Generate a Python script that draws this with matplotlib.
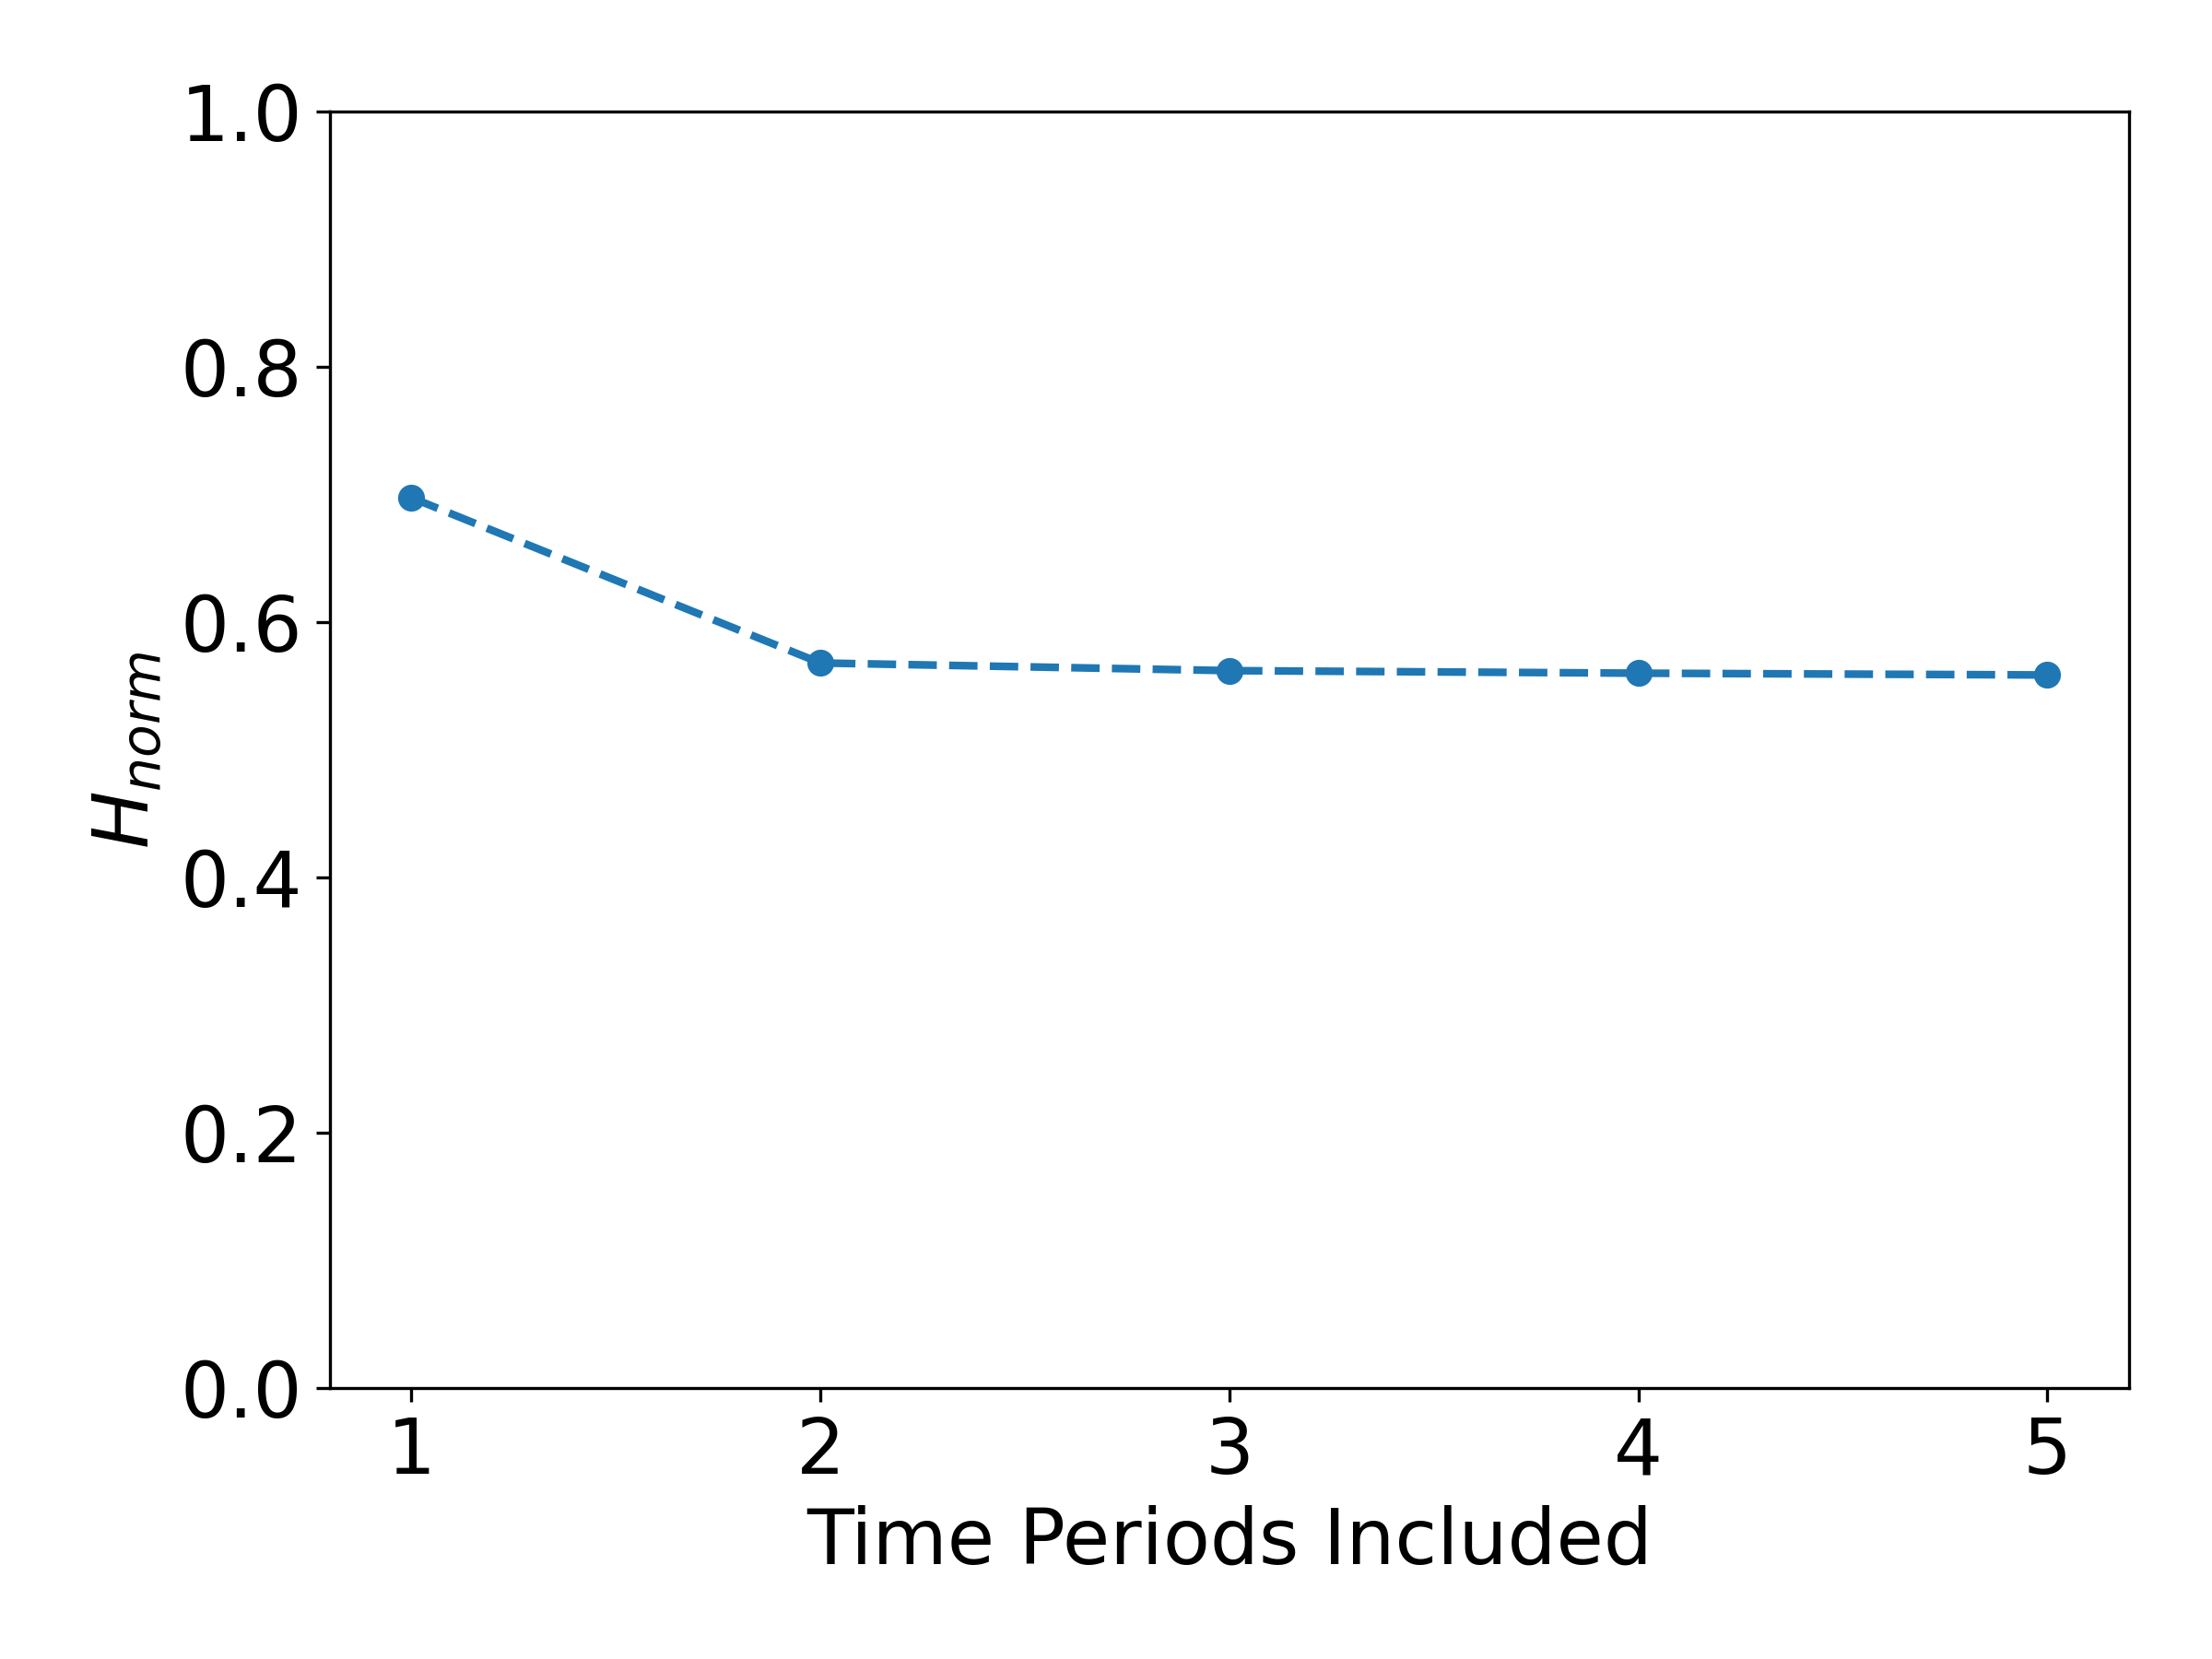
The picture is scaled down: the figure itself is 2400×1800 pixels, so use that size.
import matplotlib
matplotlib.use("Agg")
import matplotlib.pyplot as plt

# number of time periods included and the normalised entropy
periods = [1, 2, 3, 4, 5]
h_norm = [0.6975, 0.568, 0.562, 0.560, 0.5586]

plt.figure(figsize=(8, 6))
plt.plot(periods, h_norm, marker='o', linestyle='--', linewidth=2)
plt.xlabel("Time Periods Included", fontsize=20)
plt.ylabel(r"$H_{norm}$", fontsize=20)
plt.xticks(periods, fontsize=20)
plt.yticks(fontsize=20)
plt.ylim(0, 1)
plt.subplots_adjust(left=0.149, right=0.9625, top=0.9328, bottom=0.1633)
plt.savefig("out.png", dpi=300)
